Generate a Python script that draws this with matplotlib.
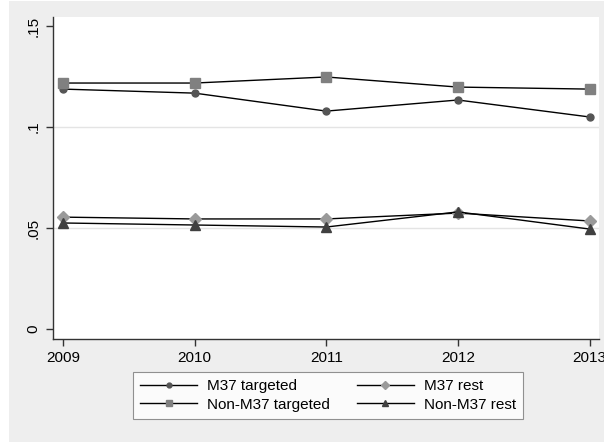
import matplotlib.pyplot as plt
from matplotlib.patches import Rectangle

# yearly shares by group
years = [2009, 2010, 2011, 2012, 2013]
m37_targeted = [0.1188, 0.1168, 0.1079, 0.1134, 0.1050]
non_m37_targeted = [0.1218, 0.1218, 0.1248, 0.1198, 0.1188]
m37_rest = [0.0554, 0.0545, 0.0545, 0.0574, 0.0535]
non_m37_rest = [0.0525, 0.0515, 0.0505, 0.0580, 0.0495]
y_ticks = [0, 0.05, 0.1, 0.15]
y_labels = ['0', '.05', '.1', '.15']

plt.rcParams['font.family'] = ['Liberation Sans', 'DejaVu Sans']

fig = plt.figure(figsize=(6.04, 4.42), dpi=100)
fig.patch.set_facecolor('white')
# grey graph region, with a thin white strip on the left
fig.patches.append(Rectangle((9 / 604, 0), 1, 441 / 442, transform=fig.transFigure,
                             facecolor='#eeeeee', edgecolor='none', zorder=-1))

ax = fig.add_axes([53 / 604, 1 - 339 / 442, 546 / 604, 322 / 442])
ax.set_facecolor('white')

style = dict(color='black', linewidth=1.0)
l1, = ax.plot(years, m37_targeted, marker='o', markersize=5, markerfacecolor='#555555',
              markeredgecolor='#555555', label='M37 targeted', **style)
l2, = ax.plot(years, m37_rest, marker='D', markersize=6, markerfacecolor='#9a9a9a',
              markeredgecolor='#9a9a9a', label='M37 rest', **style)
l3, = ax.plot(years, non_m37_targeted, marker='s', markersize=6.5, markerfacecolor='#808080',
              markeredgecolor='#808080', label='Non-M37 targeted', **style)
l4, = ax.plot(years, non_m37_rest, marker='^', markersize=7, markerfacecolor='#404040',
              markeredgecolor='#404040', label='Non-M37 rest', **style)

ax.set_xlim(2008.924, 2013.072)
ax.set_ylim(-0.00495, 0.1545)
ax.set_xticks(years)
ax.set_xticklabels([str(y) for y in years], fontsize=11)
ax.set_yticks(y_ticks)
ax.set_yticklabels(y_labels, fontsize=11, rotation=90, va='center')

for g in [0.05, 0.1]:
    ax.axhline(g, color='#e4e4e4', linewidth=1, zorder=0)

for side in ['top', 'right']:
    ax.spines[side].set_visible(False)
for side in ['left', 'bottom']:
    ax.spines[side].set_color('#333333')
    ax.spines[side].set_linewidth(1)
ax.tick_params(direction='out', length=5, width=1, color='#333333', pad=4)

# two columns filled column-wise, so rows read M37 / Non-M37
leg = fig.legend(handles=[l1, l3, l2, l4], ncol=2, loc='center',
                 bbox_to_anchor=(328 / 604, 1 - 395.5 / 442), fontsize=11,
                 frameon=True, fancybox=False, handlelength=3.7, columnspacing=1.8,
                 labelspacing=0.3, borderpad=0.5, handletextpad=0.65, markerscale=0.7)
leg.get_frame().set_edgecolor('#777777')
leg.get_frame().set_linewidth(0.8)

fig.savefig('out.png', dpi=100, facecolor=fig.get_facecolor())
